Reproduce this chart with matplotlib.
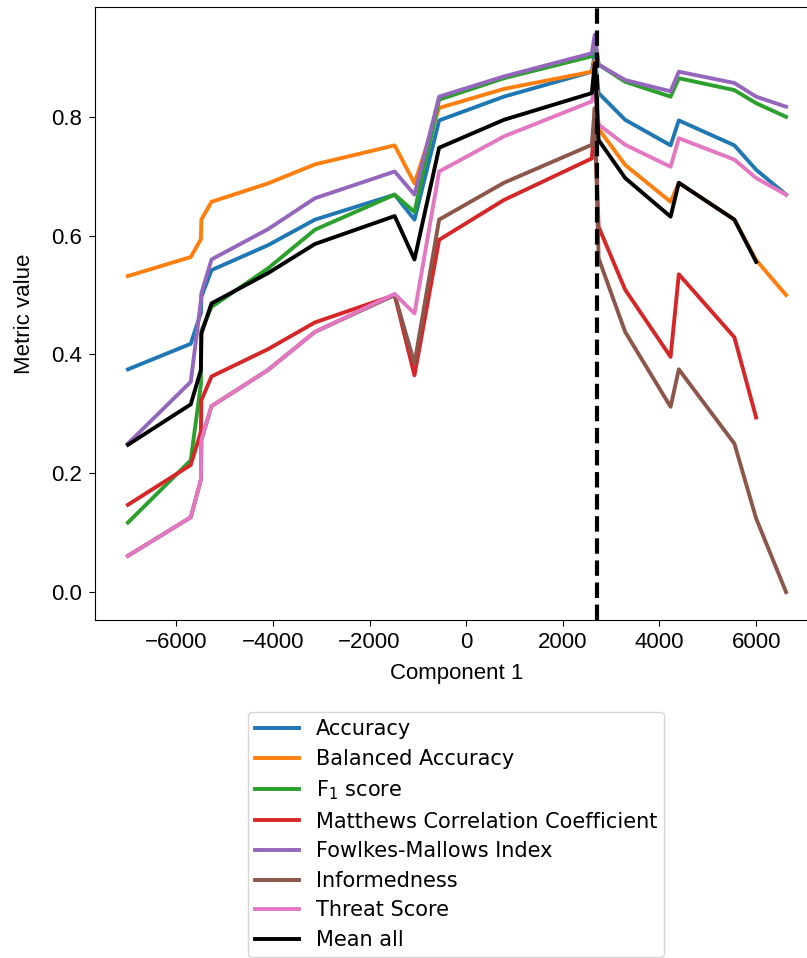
"""Metric values along component 1, with the selected split marked."""
import matplotlib
matplotlib.use("Agg")
import matplotlib.pyplot as plt
import numpy as np

# x positions along component 1
comp1 = [-7000, -5700, -5490, -5480, -5270, -4100, -3130, -1480, -1070, -560,
         780, 2600, 2660, 2740, 3290, 4230, 4400, 5550, 6000, 6620]

accuracy = [0.375, 0.418, 0.470, 0.497, 0.542, 0.584, 0.627, 0.669, 0.627, 0.794,
            0.834, 0.876, 0.905, 0.840, 0.795, 0.752, 0.794, 0.752, 0.711, 0.669]
balanced_acc = [0.532, 0.564, 0.594, 0.627, 0.657, 0.688, 0.720, 0.752, 0.688, 0.815,
                0.847, 0.876, 0.895, 0.780, 0.719, 0.657, 0.689, 0.627, 0.559, 0.500]
f1 = [0.117, 0.222, 0.350, 0.440, 0.480, 0.545, 0.610, 0.669, 0.640, 0.829,
      0.865, 0.902, 0.930, 0.888, 0.859, 0.834, 0.865, 0.845, 0.823, 0.800]
mcc = [0.147, 0.214, 0.270, 0.323, 0.363, 0.409, 0.454, 0.500, 0.365, 0.593,
       0.660, 0.730, 0.790, 0.615, 0.509, 0.396, 0.535, 0.429, 0.294, np.nan]
fowlkes = [0.250, 0.354, 0.490, 0.503, 0.560, 0.611, 0.663, 0.708, 0.669, 0.834,
           0.868, 0.907, 0.938, 0.888, 0.862, 0.843, 0.876, 0.857, 0.834, 0.817]
informed = [0.061, 0.126, 0.189, 0.256, 0.313, 0.374, 0.438, 0.500, 0.385, 0.627,
            0.689, 0.753, 0.815, 0.562, 0.438, 0.312, 0.375, 0.250, 0.124, 0.000]
threat = [0.061, 0.126, 0.189, 0.256, 0.313, 0.374, 0.438, 0.502, 0.469, 0.708,
          0.767, 0.826, 0.850, 0.787, 0.753, 0.716, 0.764, 0.728, 0.697, 0.669]
mean_all = [0.248, 0.316, 0.374, 0.435, 0.486, 0.537, 0.586, 0.633, 0.560, 0.748,
            0.795, 0.840, 0.890, 0.761, 0.697, 0.632, 0.689, 0.627, 0.556, np.nan]

split_x = 2707

series = [
    ("Accuracy", accuracy, "tab:blue"),
    ("Balanced Accuracy", balanced_acc, "tab:orange"),
    ("F$_1$ score", f1, "tab:green"),
    ("Matthews Correlation Coefficient", mcc, "tab:red"),
    ("Fowlkes-Mallows Index", fowlkes, "tab:purple"),
    ("Informedness", informed, "tab:brown"),
    ("Threat Score", threat, "tab:pink"),
    ("Mean all", mean_all, "black"),
]

plt.rcParams["font.family"] = ["Liberation Sans", "DejaVu Sans"]

W, H = 807, 958
fig = plt.figure(figsize=(W / 100, H / 100), dpi=100)
ax = fig.add_axes([95 / W, 1 - 620 / H, (819 - 95) / W, (620 - 7) / H])

for label, vals, color in series:
    ax.plot(comp1, vals, color=color, lw=2.8, label=label)
ax.axvline(split_x, color="black", lw=3, ls="--")

ax.set_xlabel("Component 1", fontsize=16, labelpad=7)
ax.set_ylabel("Metric value", fontsize=16, labelpad=12)
ax.tick_params(labelsize=16, length=4.5, pad=4.5)
ax.set_yticks([0.0, 0.2, 0.4, 0.6, 0.8])

handles, labels = ax.get_legend_handles_labels()
fig.legend(handles, labels, loc="upper center",
           bbox_to_anchor=(456 / W, 1 - 712 / H), borderaxespad=0,
           prop={"family": "DejaVu Sans", "size": 15},
           labelspacing=0.46, handlelength=2.1, borderpad=0.35)

fig.savefig("out.png", dpi=100)
